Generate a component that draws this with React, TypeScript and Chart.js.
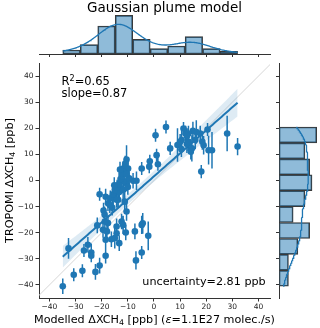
import React, { useEffect, useRef } from 'react';
import { Chart, registerables } from 'chart.js';
Chart.register(...registerables);

// ---- data ----
const modelled = [
  -34.9, -32.7, -30.7, -27.4, -26.8, -25.3, -24.0, -24.0, -22.4, -20.8, -18.5, -18.5, -16.3, -13.3, -6.9, -4.7,
  -15.0, -2.2, -21.7, -19.5, -18.0, -14.3, -11.8, -10.8, -7.3, -4.7, -4.3, -17.6, -14.3,
  -18.8, -12.4, -19.3, -18.9, -10.5, -16.0,
  -17.6, -15.6, -13.7, -11.2, -20.8, -18.5, -16.9, -16.7, -14.3, -15.7, -13.3,
  -15.0, -13.1, -11.8, -10.5, -8.0, -6.7, -14.1, -13.3, -11.5, -12.8, -15.2, -9.5, -12.0, -10.0,
  -1.6, -1.8, -4.7, 1.5, -11.2, -9.9, -11.8, 18.1, -10.5, -12.4, -10.5, -13.0, -11.0,
  1.0, 6.2, 32.0, 22.2, 20.9, 19.0, 14.5, 14.1, 12.6, 9.0, 10.5,
  0.6, 4.6, 28.0, 20.5, 17.7, 16.2, 15.8, 18.5, 14.9, 13.2, 12.1, 11.3, 13.2, 10.6, 10.0, 12.6,
];
const tropomi = [
  -40.5, -26.0, -36.1, -34.6, -26.8, -24.6, -27.6, -28.8, -35.0, -32.6, -28.8, -22.7, -22.5, -24.0, -30.6, -27.6,
  -22.0, -21.2, -17.2, -18.9, -19.5, -17.6, -17.0, -19.9, -19.5, -17.0, -16.4, -16.3, -20.2,
  -15.7, -15.7, -11.5, -13.0, -11.9, -10.4,
  -8.7, -6.2, -7.4, -8.1, -5.3, -6.2, -9.4, -6.8, -7.4, -5.3, -4.4,
  -3.6, -2.4, -3.6, -1.1, -0.1, -0.1, -2.7, -1.3, -0.2, 0.6, -1.8, 0.8, 1.5, -2.5,
  7.4, 5.3, 4.6, 6.2, 5.3, 4.6, 3.4, 3.4, 8.0, 2.6, 2.5, 4.2, 6.5,
  9.7, 12.3, 13.0, 11.6, 11.6, 13.5, 12.3, 11.0, 14.0, 13.6, 12.0,
  17.3, 20.5, 18.0, 19.5, 18.0, 18.6, 15.5, 14.8, 19.0, 18.0, 18.0, 19.9, 14.8, 15.5, 14.8, 17.0,
];
const tropomiErr = [
  3, 4, 2.5, 2.5, 2.5, 3, 3.5, 2.5, 3, 3, 3, 3.5, 3, 3, 3.5, 2.5,
  4, 5.5, 3, 3, 3.5, 3, 3.5, 3, 3, 3.5, 4, 3, 3,
  3, 3, 3, 3, 3.5, 3,
  3, 3.5, 3, 3.5, 2.5, 3, 3, 3, 3, 3, 3.5,
  3, 3, 4, 3, 3, 3.5, 3, 3.5, 3, 4, 3, 3.5, 3, 3,
  2.5, 2.5, 2.5, 2.5, 3, 3, 3, 2.5, 5.5, 3, 3, 3, 3,
  2.5, 2.5, 3.3, 7, 5.5, 3.5, 5, 3, 3.5, 6.4, 3,
  2.5, 2.5, 6.8, 2.5, 3, 4.5, 3.5, 3, 3.5, 3, 3, 2.5, 3.5, 5, 3, 3,
];
const xTicks = [-40, -30, -20, -10, 0, 10, 20, 30, 40];
const yTicks = [-40, -30, -20, -10, 0, 10, 20, 30, 40];
const xLimits = [-44, 44.4];
const yLimits = [-45, 45];
const nBins = 10;
const titleText = 'Gaussian plume model';
const r2Text = '0.65';
const slopeText = '0.87';
const uncertaintyText = 'uncertainty=2.81 ppb';
const yLabelParts = ['TROPOMI \u0394XCH', '4', ' [ppb]'];

// ---- styles ----
const BLUE = '#1f77b4';
const FONT = 'DejaVu Sans';
const AX = '#333333';

function histogram(vals: number[], nb: number) {
  const mn = Math.min(...vals);
  const mx = Math.max(...vals);
  const w = (mx - mn) / nb;
  const counts = new Array(nb).fill(0);
  vals.forEach((v) => {
    let i = Math.floor((v - mn) / w);
    if (i >= nb) i = nb - 1;
    if (i < 0) i = 0;
    counts[i]++;
  });
  const centers = counts.map((_, i) => mn + w * (i + 0.5));
  return { mn, mx, w, counts, centers };
}

function kde(vals: number[], grid: number[]) {
  const n = vals.length;
  const m = vals.reduce((a, b) => a + b, 0) / n;
  const sd = Math.sqrt(vals.reduce((a, b) => a + (b - m) ** 2, 0) / (n - 1));
  const bw = sd * Math.pow(n, -1 / 5);
  return grid.map(
    (g) => vals.reduce((a, v) => a + Math.exp(-0.5 * ((g - v) / bw) ** 2), 0) / (n * bw * Math.sqrt(2 * Math.PI))
  );
}

function linspace(a: number, b: number, n: number) {
  const out: number[] = [];
  for (let i = 0; i < n; i++) out.push(a + ((b - a) * i) / (n - 1));
  return out;
}

const fmt = (v: number | string) => {
  const n = Number(v);
  return n < 0 ? '\u2212' + Math.abs(n) : String(n);
};

const yLabelPlugin = {
  id: 'yLabel',
  afterDraw(chart: any) {
    const ctx = chart.ctx as CanvasRenderingContext2D;
    const big = `11.2px "${FONT}"`;
    const small = `7.8px "${FONT}"`;
    ctx.save();
    ctx.font = big;
    const w0 = ctx.measureText(yLabelParts[0]).width;
    const w2 = ctx.measureText(yLabelParts[2]).width;
    ctx.font = small;
    const w1 = ctx.measureText(yLabelParts[1]).width;
    const total = w0 + w1 + w2;
    const cy = (chart.chartArea.top + chart.chartArea.bottom) / 2;
    ctx.translate(12.6, cy);
    ctx.rotate(-Math.PI / 2);
    ctx.fillStyle = '#000';
    ctx.textBaseline = 'alphabetic';
    ctx.textAlign = 'left';
    let x = -total / 2;
    ctx.font = big;
    ctx.fillText(yLabelParts[0], x, 0);
    x += w0;
    ctx.font = small;
    ctx.fillText(yLabelParts[1], x, 2.4);
    x += w1;
    ctx.font = big;
    ctx.fillText(yLabelParts[2], x, 0);
    ctx.restore();
  },
};

export default function App() {
  const mainRef = useRef<HTMLCanvasElement>(null);
  const topRef = useRef<HTMLCanvasElement>(null);
  const rightRef = useRef<HTMLCanvasElement>(null);

  useEffect(() => {
    const n = modelled.length;
    // regression
    const mx = modelled.reduce((a, b) => a + b, 0) / n;
    const my = tropomi.reduce((a, b) => a + b, 0) / n;
    let sxx = 0, sxy = 0;
    for (let i = 0; i < n; i++) {
      sxx += (modelled[i] - mx) ** 2;
      sxy += (modelled[i] - mx) * (tropomi[i] - my);
    }
    const slope = sxy / sxx;
    const icpt = my - slope * mx;
    let sse = 0;
    for (let i = 0; i < n; i++) sse += (tropomi[i] - (icpt + slope * modelled[i])) ** 2;
    const s2 = sse / (n - 2);
    const tval = 1.984;
    const xg = linspace(Math.min(...modelled), Math.max(...modelled), 100);
    const fit = xg.map((x) => ({ x, y: icpt + slope * x }));
    const ciHi = xg.map((x) => ({ x, y: icpt + slope * x + tval * Math.sqrt(s2 * (1 / n + (x - mx) ** 2 / sxx)) }));
    const ciLo = xg.map((x) => ({ x, y: icpt + slope * x - tval * Math.sqrt(s2 * (1 / n + (x - mx) ** 2 / sxx)) }));

    const pts = modelled.map((x, i) => ({ x, y: tropomi[i] }));
    const errData: { x: number; y: number | null }[] = [];
    modelled.forEach((x, i) => {
      errData.push({ x, y: tropomi[i] - tropomiErr[i] });
      errData.push({ x, y: tropomi[i] + tropomiErr[i] });
      errData.push({ x, y: null });
    });

    const tickMarks = (vals: number[]) => (s: any) => {
      s.ticks = vals.map((v) => ({ value: v }));
    };

    const main = new Chart(mainRef.current!, {
      type: 'scatter',
      data: {
        datasets: [
          { type: 'scatter', data: pts, pointRadius: 3.3, pointHoverRadius: 3.3, backgroundColor: BLUE, borderWidth: 0, order: 0 } as any,
          { type: 'line', data: errData, borderColor: BLUE, borderWidth: 1.5, pointRadius: 0, spanGaps: false, order: 1 } as any,
          { type: 'line', data: fit, borderColor: BLUE, borderWidth: 2, pointRadius: 0, order: 2 } as any,
          { type: 'line', data: ciHi, borderColor: 'rgba(0,0,0,0)', borderWidth: 1, pointRadius: 0, fill: '+1', backgroundColor: 'rgba(31,119,180,0.15)', order: 3 } as any,
          { type: 'line', data: ciLo, borderColor: 'rgba(0,0,0,0)', borderWidth: 1, pointRadius: 0, fill: false, order: 4 } as any,
          { type: 'line', data: [{ x: yLimits[0], y: yLimits[0] }, { x: yLimits[1], y: yLimits[1] }], borderColor: '#d6d6d6', borderWidth: 1, pointRadius: 0, order: 5 } as any,
        ],
      },
      options: {
        animation: false,
        responsive: false,
        events: [],
        layout: { padding: { left: 9, right: 50, top: 63, bottom: 18 } },
        plugins: { legend: { display: false }, tooltip: { enabled: false }, title: { display: false } },
        scales: {
          x: {
            type: 'linear', min: xLimits[0], max: xLimits[1],
            afterBuildTicks: tickMarks(xTicks),
            afterFit: (s: any) => { s.height = 12; },
            ticks: { callback: fmt, font: { family: FONT, size: 7.5 }, color: '#222', padding: 1.5, maxRotation: 0, autoSkip: false },
            grid: { drawOnChartArea: false, drawTicks: true, tickLength: 3.5, color: AX, lineWidth: 1 },
            border: { display: true, color: AX, width: 1 },
          },
          y: {
            type: 'linear', min: yLimits[0], max: yLimits[1],
            afterBuildTicks: tickMarks(yTicks),
            afterFit: (s: any) => { s.width = 30; },
            ticks: { callback: fmt, font: { family: FONT, size: 7.5 }, color: '#222', padding: 2, autoSkip: false },
            grid: { drawOnChartArea: false, drawTicks: true, tickLength: 3.5, color: AX, lineWidth: 1 },
            border: { display: true, color: AX, width: 1 },
          },
        },
      } as any,
      plugins: [yLabelPlugin],
    });

    // top marginal
    const hx = histogram(modelled, nBins);
    const gx = linspace(hx.mn, hx.mx, 200);
    const kx = kde(modelled, gx).map((d, i) => ({ x: gx[i], y: d * n * hx.w }));
    const top = new Chart(topRef.current!, {
      type: 'bar',
      data: {
        datasets: [
          { type: 'line', data: kx, borderColor: BLUE, borderWidth: 1.3, pointRadius: 0, order: 0 } as any,
          {
            type: 'bar', data: hx.centers.map((c, i) => ({ x: c, y: hx.counts[i] })),
            backgroundColor: 'rgba(31,119,180,0.5)', borderColor: '#3a3a3a', borderWidth: 1, borderSkipped: false,
            barPercentage: 1, categoryPercentage: 1, order: 1,
          } as any,
        ],
      },
      options: {
        animation: false, responsive: false, events: [],
        layout: { padding: { left: 39, right: 50, top: 13.4, bottom: 0 } },
        plugins: { legend: { display: false }, tooltip: { enabled: false } },
        scales: {
          x: {
            type: 'linear', min: xLimits[0], max: xLimits[1], offset: false,
            afterBuildTicks: tickMarks(xTicks),
            afterFit: (s: any) => { s.height = 4; },
            ticks: { display: false },
            grid: { offset: false, drawOnChartArea: false, drawTicks: true, tickLength: 3, color: AX },
            border: { display: true, color: AX, width: 1 },
          },
          y: { type: 'linear', display: false, min: 0, max: Math.max(...hx.counts) * 1.05 },
        },
      } as any,
    });

    // right marginal
    const hy = histogram(tropomi, nBins);
    const gy = linspace(hy.mn, hy.mx, 200);
    const ky = kde(tropomi, gy).map((d, i) => ({ x: d * n * hy.w, y: gy[i] }));
    const right = new Chart(rightRef.current!, {
      type: 'bar',
      data: {
        datasets: [
          { type: 'line', indexAxis: 'y', data: ky, borderColor: BLUE, borderWidth: 1.3, pointRadius: 0, order: 0 } as any,
          {
            type: 'bar', data: hy.centers.map((c, i) => ({ x: hy.counts[i], y: c })),
            backgroundColor: 'rgba(31,119,180,0.5)', borderColor: '#3a3a3a', borderWidth: 1, borderSkipped: false,
            barPercentage: 1, categoryPercentage: 1, order: 1,
          } as any,
        ],
      },
      options: {
        indexAxis: 'y',
        animation: false, responsive: false, events: [],
        layout: { padding: { left: 5, right: 1.4, top: 63, bottom: 30 } },
        plugins: { legend: { display: false }, tooltip: { enabled: false } },
        scales: {
          y: {
            type: 'linear', position: 'left', min: yLimits[0], max: yLimits[1], offset: false,
            afterBuildTicks: tickMarks(yTicks),
            afterFit: (s: any) => { s.width = 4; },
            ticks: { display: false },
            grid: { offset: false, drawOnChartArea: false, drawTicks: true, tickLength: 3, color: AX },
            border: { display: true, color: AX, width: 1 },
          },
          x: { type: 'linear', display: false, min: 0, max: Math.max(...hy.counts) * 1.05 },
        },
      } as any,
    });

    return () => {
      main.destroy();
      top.destroy();
      right.destroy();
    };
  }, []);

  const sub: React.CSSProperties = { fontSize: '0.7em', verticalAlign: '-0.22em', lineHeight: 0 };
  const sup: React.CSSProperties = { fontSize: '0.7em', verticalAlign: '0.45em', lineHeight: 0 };
  const txt: React.CSSProperties = { position: 'absolute', whiteSpace: 'nowrap', lineHeight: 1, color: '#000' };

  return (
    <div style={{ position: 'absolute', left: 0, top: 0, width: 320, height: 328, overflow: 'hidden', background: '#fff', fontFamily: FONT }}>
      <canvas ref={mainRef} width={320} height={328} style={{ position: 'absolute', left: 0, top: 0, width: 320, height: 328 }} />
      <canvas ref={topRef} width={320} height={58} style={{ position: 'absolute', left: 0, top: 0, width: 320, height: 58 }} />
      <canvas ref={rightRef} width={50} height={328} style={{ position: 'absolute', left: 270, top: 0, width: 50, height: 328 }} />
      <div style={{ ...txt, left: 14.5, width: 300, textAlign: 'center', top: 1.3, fontSize: 13.5 }}>{titleText}</div>
      <div style={{ ...txt, left: 61.5, top: 76.3, fontSize: 11.5 }}>
        R<sup style={sup}>2</sup>={r2Text}
      </div>
      <div style={{ ...txt, left: 61.5, top: 87.8, fontSize: 11.5 }}>slope={slopeText}</div>
      <div style={{ ...txt, left: 142.3, top: 275.8, fontSize: 11.2 }}>{uncertaintyText}</div>
      <div style={{ ...txt, left: 4.5, width: 300, textAlign: 'center', top: 313.5, fontSize: 11.2 }}>
        Modelled ΔXCH<sub style={sub}>4</sub> [ppb] (<i>ε</i>=1.1E27 molec./s)
      </div>
    </div>
  );
}
